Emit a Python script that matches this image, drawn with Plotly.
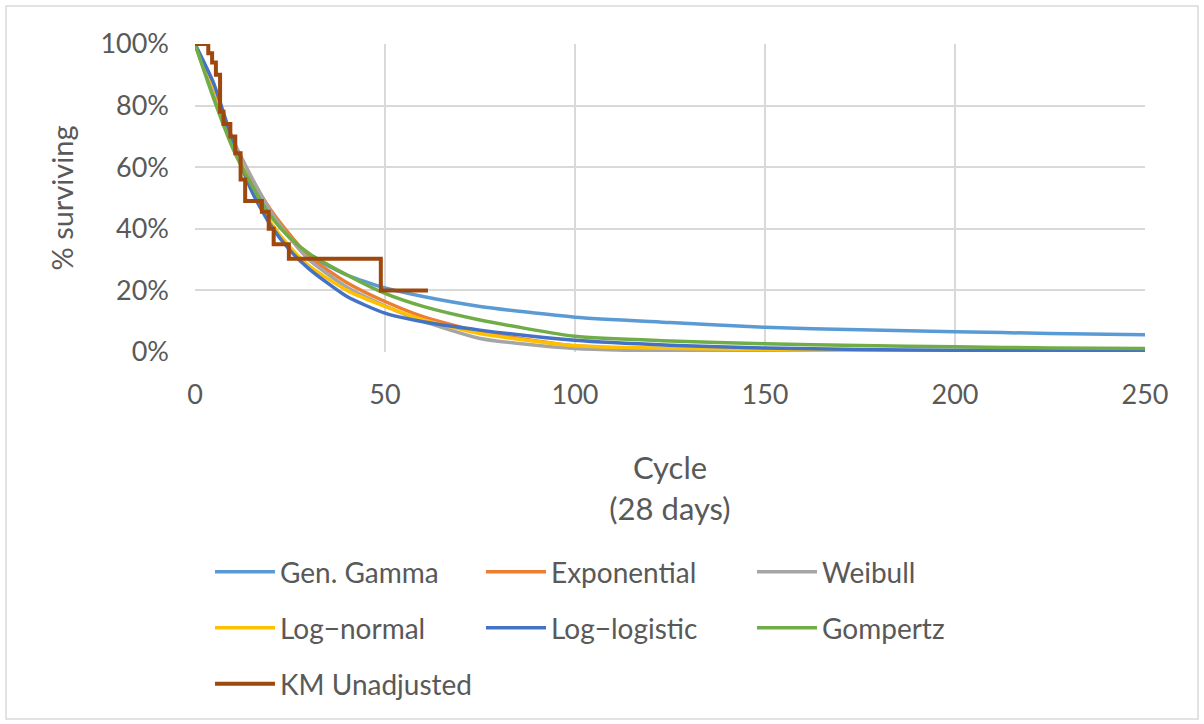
import plotly.graph_objects as go

# ---- data ----
cycles = [0, 5, 10, 15, 20, 25, 30, 40, 50, 60, 75, 100, 125, 150, 175, 200, 225, 250]

gen_gamma   = [1.0, 0.84, 0.68, 0.555, 0.45, 0.37, 0.315, 0.25, 0.208, 0.18, 0.148, 0.113, 0.096, 0.080, 0.072, 0.066, 0.060, 0.056]
exponential = [1.0, 0.83, 0.68, 0.56, 0.46, 0.38, 0.31, 0.225, 0.164, 0.115, 0.066, 0.020, 0.008, 0.003, 0.001, 0.0, 0.0, 0.0]
weibull     = [1.0, 0.85, 0.69, 0.565, 0.455, 0.37, 0.30, 0.21, 0.15, 0.10, 0.044, 0.011, 0.003, 0.001, 0.0, 0.0, 0.0, 0.0]
log_normal  = [1.0, 0.86, 0.68, 0.535, 0.42, 0.34, 0.28, 0.20, 0.148, 0.105, 0.060, 0.020, 0.012, 0.008, 0.005, 0.004, 0.002, 0.001]
log_logistic= [1.0, 0.87, 0.68, 0.52, 0.41, 0.33, 0.27, 0.18, 0.126, 0.098, 0.071, 0.038, 0.022, 0.013, 0.008, 0.006, 0.005, 0.004]
gompertz    = [1.0, 0.82, 0.66, 0.54, 0.44, 0.37, 0.32, 0.25, 0.19, 0.148, 0.104, 0.051, 0.036, 0.027, 0.021, 0.017, 0.013, 0.011]

km_cycles = [0, 3.5, 4.5, 5.5, 6.6, 7.5, 9.3, 10.6, 12.0, 13.2, 17.6, 19.4, 20.7, 24.7, 48.9, 61.3]
km_values = [1.0, 0.97, 0.94, 0.90, 0.78, 0.74, 0.70, 0.645, 0.56, 0.49, 0.455, 0.40, 0.35, 0.303, 0.20, 0.20]

series_names = ["Gen. Gamma", "Exponential", "Weibull", "Log\u2212normal", "Log\u2212logistic", "Gompertz"]
series_values = [gen_gamma, exponential, weibull, log_normal, log_logistic, gompertz]
series_colors = ["#5B9BD5", "#ED7D31", "#A5A5A5", "#FFC000", "#4472C4", "#70AD47"]
legend_rows = ["legend", "legend", "legend", "legend2", "legend2", "legend2"]

FONT = "Lato"
GREY_TXT = "#595959"

fig = go.Figure()
for name, vals, col, lg in zip(series_names, series_values, series_colors, legend_rows):
    fig.add_trace(go.Scatter(x=cycles, y=vals, name=name, mode="lines",
                             line=dict(color=col, width=3.5, shape="spline", smoothing=0.6),
                             legend=lg))
fig.add_trace(go.Scatter(x=km_cycles, y=km_values, name="KM Unadjusted", mode="lines",
                         line=dict(color="#9E480E", width=4, shape="hv"), legend="legend3"))

# plot area: x 195..1145, y 44..352 px
W, H = 1204, 724
L, R, T, B = 195, 1145, 44, 352
def px_x(p):
    return (p - L) / (R - L)
def px_y(p):
    return (B - p) / (B - T)

leg_common = dict(orientation="h", xanchor="left", yanchor="middle", entrywidth=196,
                  entrywidthmode="pixels", font=dict(family=FONT, size=28, color=GREY_TXT),
                  bgcolor="rgba(0,0,0,0)", itemwidth=60, tracegroupgap=0)

fig.update_layout(
    width=W, height=H,
    margin=dict(l=L, r=W - R, t=T, b=H - B, pad=0),
    paper_bgcolor="white", plot_bgcolor="white",
    font=dict(family=FONT, color=GREY_TXT, size=27),
    showlegend=True,
    legend=dict(x=px_x(210), y=px_y(572), **leg_common),
    legend2=dict(x=px_x(210), y=px_y(628), **leg_common),
    legend3=dict(x=px_x(210), y=px_y(684), **leg_common),
    xaxis=dict(range=[0, 250], tickvals=[0, 50, 100, 150, 200, 250],
               showgrid=True, gridcolor="#D9D9D9", gridwidth=1.5, zeroline=False,
               showline=False, ticks="", ticklabelstandoff=24,
               tickfont=dict(family=FONT, size=27, color=GREY_TXT),
               title=dict(text="Cycle<br>(28 days)", standoff=48,
                          font=dict(family=FONT, size=31, color=GREY_TXT))),
    yaxis=dict(range=[0, 1], tickvals=[0, 0.2, 0.4, 0.6, 0.8, 1.0], tickformat=".0%",
               showgrid=True, gridcolor="#D9D9D9", gridwidth=1.5, zeroline=False,
               showline=False, ticks="", ticklabelstandoff=25,
               tickfont=dict(family=FONT, size=27, color=GREY_TXT),
               title=dict(text="% surviving", standoff=18,
                          font=dict(family=FONT, size=29, color=GREY_TXT))),
)

# outer chart border
fig.add_shape(type="rect", xref="paper", yref="paper",
              x0=px_x(6), x1=px_x(1198), y0=px_y(719), y1=px_y(6),
              line=dict(color="#D9D9D9", width=1.5), fillcolor="rgba(0,0,0,0)", layer="below")

fig.write_html("out.html")
